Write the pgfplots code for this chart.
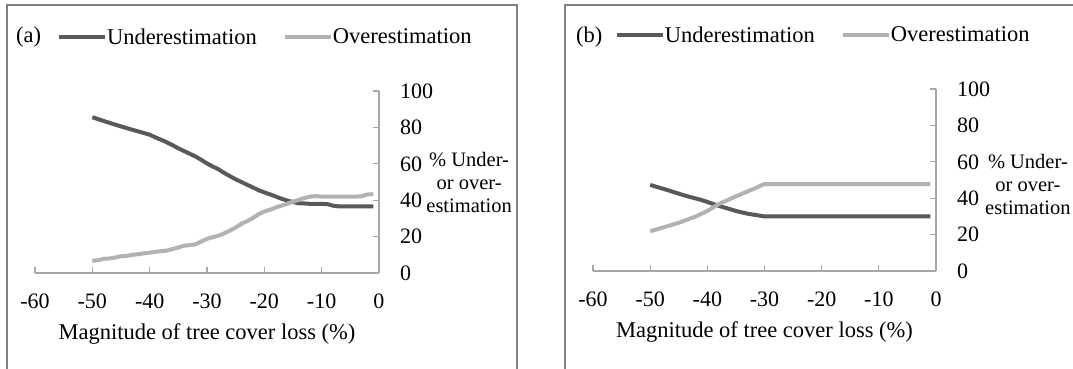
\documentclass[border=0pt]{standalone}
\usepackage{fontspec}
\setmainfont{Liberation Serif}
\usepackage{pgfplots}
\pgfplotsset{compat=1.18}

\definecolor{underc}{HTML}{595959}
\definecolor{overc}{HTML}{B2B2B2}
\definecolor{axisc}{HTML}{A6A6A6}
\definecolor{framec}{HTML}{808080}

\pgfplotsset{
  panel/.style={
    scale only axis, height=182pt,
    xmin=-60, xmax=0, ymin=0, ymax=100,
    clip=false,
    axis x line=bottom, axis y line=right,
    axis line style={-, draw=axisc, line width=1.2pt},
    xtick={-60,-50,...,0}, ytick={0,20,...,100},
    tick align=inside, major tick length=6pt,
    tick style={draw=axisc, line width=1.2pt},
    /pgf/number format/assume math mode=true,
    tick label style={font=\fontsize{22}{24}\selectfont, inner sep=0pt},
    xticklabel style={anchor=north},
    xticklabel shift=21pt,
    yticklabel style={anchor=west},
    yticklabel shift=21pt,
    xlabel={Magnitude of tree cover loss (\%)},
    every axis x label/.style={at={(0.5,-0.335)}, anchor=center,
      font=\fontsize{22.5}{24}\selectfont},
    ylabel={\% Under-\\or over-\\estimation},
    every axis y label/.style={anchor=center, align=center,
      font=\fontsize{20.5}{23}\selectfont},
    legend columns=2,
    legend image code/.code={\draw[##1] (0pt,0pt) -- (46pt,0pt);},
    legend style={draw=none, fill=none, at={(0.064,1.297)}, anchor=west,
      inner sep=0pt, outer sep=0pt, font=\fontsize{22.5}{24}\selectfont,
      /tikz/every odd column/.append style={column sep=0pt},
      /tikz/every even column/.append style={column sep=26pt},
      nodes={inner xsep=0pt, inner ysep=1pt}},
    under/.style={draw=underc, line width=4pt},
    over/.style={draw=overc, line width=4pt},
  }
}

\begin{document}
\begin{tikzpicture}
\useasboundingbox (0pt,0pt) rectangle (1073pt,-369pt);

% frames round the two panels
\draw[framec, line width=1.6pt] (7pt,-370pt) -- (7pt,-5pt) -- (517pt,-5pt) -- (517pt,-370pt);
\draw[framec, line width=1.6pt] (565pt,-370pt) -- (565pt,-5pt) -- (1075pt,-5pt);

\node[anchor=west, inner sep=0pt, font=\fontsize{22.5}{24}\selectfont] at (16pt,-37pt) {(a)};
\node[anchor=west, inner sep=0pt, font=\fontsize{22.5}{24}\selectfont] at (576pt,-37pt) {(b)};

% (a)
\begin{axis}[panel, width=344pt, at={(35pt,-273pt)}, anchor=south west,
  every axis y label/.append style={at={(1.262,0.5)}}]
\addplot[under] coordinates {
(-50,85.6) (-48,83.5) (-46,81.5) (-44,79.6) (-42,77.8) (-40,76.0) (-39,74.5)
(-38,73.2) (-37,71.8) (-36,70.2) (-35,68.5) (-34,67.0) (-33,65.5) (-32,64.0)
(-31,62.2) (-30,60.2) (-29,58.5) (-28,57.0) (-27,55.0) (-26,53.2) (-25,51.5)
(-24,50.0) (-23,48.5) (-22,47.0) (-21,45.5) (-20,44.3) (-19,43.2) (-18,42.0)
(-17,40.8) (-16,39.8) (-15,39.0) (-14,38.3) (-13,38.2) (-12,38.0) (-11,38.0)
(-10,38.0) (-9,37.8) (-8,37.0) (-7,36.6) (-5,36.6) (-3,36.6) (-1,36.6)
};
\addlegendentry{Underestimation}
\addplot[over] coordinates {
(-50,6.7) (-49,7.0) (-48,7.8) (-47,8.0) (-46,8.5) (-45,9.2) (-44,9.4) (-43,10.0)
(-42,10.3) (-41,10.8) (-40,11.2) (-39,11.6) (-38,12.0) (-37,12.3) (-36,13.2)
(-35,14.0) (-34,15.0) (-33,15.3) (-32,15.8) (-31,17.3) (-30,18.8) (-29,19.7)
(-28,20.5) (-27,21.8) (-26,23.3) (-25,25.0) (-24,27.0) (-23,28.5) (-22,30.2)
(-21,32.3) (-20,33.8) (-19,34.8) (-18,36.0) (-17,37.0) (-16,38.0) (-15,39.2)
(-14,40.2) (-13,41.2) (-12,42.0) (-11,42.2) (-10,42.0) (-8,42.0) (-6,42.0)
(-4,42.0) (-3,42.2) (-2,43.2) (-1,43.3)
};
\addlegendentry{Overestimation}
\end{axis}

% (b)
\begin{axis}[panel, width=343pt, at={(593pt,-271pt)}, anchor=south west,
  every axis y label/.append style={at={(1.268,0.478)}}]
\addplot[under] coordinates {
(-50,47.3) (-47,44.5) (-44,41.5) (-41,39.0) (-38,35.8) (-35,33.0) (-33,31.5)
(-30,30.0) (-20,30.0) (-10,30.0) (-1,30.0)
};
\addlegendentry{Underestimation}
\addplot[over] coordinates {
(-50,21.8) (-45,26.5) (-42,30.0) (-40,33.0) (-38,36.8) (-35,41.0) (-32,45.0)
(-30,47.8) (-20,47.8) (-10,47.8) (-1,47.8)
};
\addlegendentry{Overestimation}
\end{axis}
\end{tikzpicture}
\end{document}
